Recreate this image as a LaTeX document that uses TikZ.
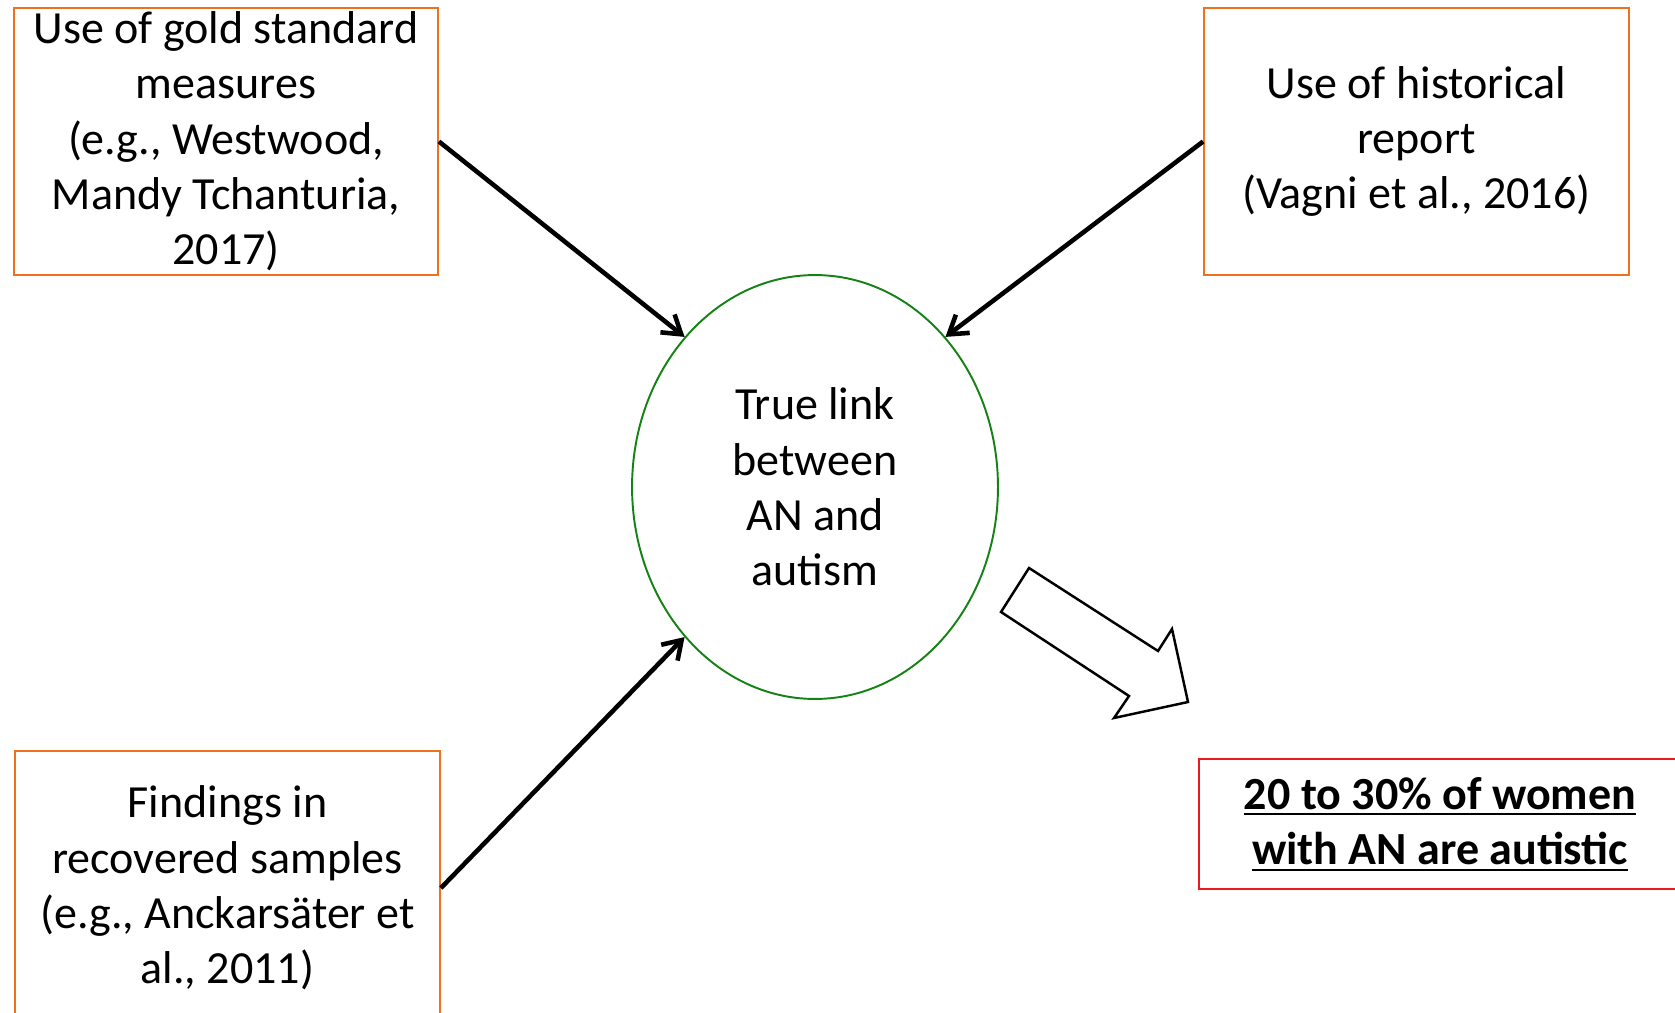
\documentclass[tikz,border=0pt]{standalone}
\usepackage{fontspec}
\setmainfont{Carlito}
\usetikzlibrary{arrows.meta, shapes.geometric}
\definecolor{boxline}{RGB}{240,112,30}
\definecolor{linkline}{RGB}{20,130,20}
\definecolor{resultline}{RGB}{235,25,30}
\newcommand{\undertext}[1]{\setbox0\hbox{#1}\rlap{\rule[-3.4pt]{\wd0}{1.1pt}}\box0}
\tikzset{
  factor/.style={draw=boxline, line width=1.1pt, fill=white, align=center,
                 inner sep=0pt, minimum width=8.5cm, minimum height=5.34cm},
  push/.style={line width=2.6pt, -{Straight Barb[length=10pt, width=13pt]}},
}

\begin{document}
\begin{tikzpicture}[x=0.02cm, y=-0.02cm, font=\fontsize{26.2pt}{31.5pt}\selectfont]
  \useasboundingbox (0,0) rectangle (1675,1013);

  % the three kinds of evidence
  \node[factor, minimum width=8.48cm] (gold) at (226,141.5)
    {Use of gold standard\\measures\\(e.g., Westwood,\\Mandy Tchanturia,\\2017)};
  \node[factor] (history) at (1416.5,141.5)
    {Use of historical\\report\\(Vagni et al., 2016)};
  \node[factor, minimum height=5.48cm] (recovered) at (227.5,888)
    {Findings in\\recovered samples\\(e.g., Anckarsäter et\\al., 2011)};

  % centre
  \node[ellipse, draw=linkline, line width=1.1pt, inner sep=0pt,
        minimum width=7.32cm, minimum height=8.48cm, align=center] (link) at (815,487)
    {True link\\between\\AN and\\autism};

  % result
  \node[draw=resultline, line width=1.1pt, inner sep=0pt, align=center,
        minimum width=9.64cm, minimum height=2.6cm] (result) at (1440,824)
    {\bfseries\undertext{20 to 30\% of women}\\\bfseries\undertext{with AN are autistic}};

  \draw[push] (gold.east) -- (link.131);
  \draw[push] (history.west) -- (link.49);
  \draw[push] (recovered.east) -- (link.229);

  % block arrow
  \draw[line width=1.4pt, fill=white] (1029,568) -- (1158,651) -- (1172,629)
    -- (1188,702) -- (1114,718) -- (1129,696) -- (1001,612) -- cycle;
\end{tikzpicture}
\end{document}
